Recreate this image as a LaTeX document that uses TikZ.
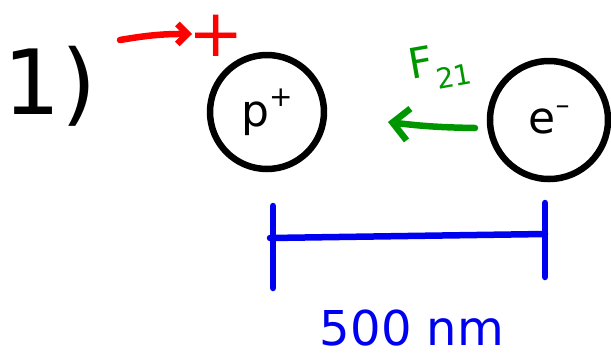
\documentclass[tikz,border=0pt]{standalone}
\usepackage{fontspec}
\setmainfont{DejaVu Sans}
\usetikzlibrary{arrows.meta}
\definecolor{pred}{RGB}{255,0,0}
\definecolor{pgreen}{RGB}{0,150,0}
\definecolor{pblue}{RGB}{0,0,240}
\newcommand{\supx}[2]{#1\raisebox{0.45em}{\fontsize{28}{28}\selectfont #2}}
\begin{document}
\begin{tikzpicture}[x=1pt,y=-1pt,
  pen/.style={line width=6.5pt,line cap=round,line join=round},
  particle/.style={circle,draw=black,pen,minimum size=114pt,inner sep=0pt,font=\fontsize{44}{44}\selectfont},
  hand/.style={inner sep=0pt,font=\fontsize{#1}{#1}\selectfont}]
\useasboundingbox (0,0) rectangle (611,360);
% label 1)
\node[hand=90] (num) at (50,86) {1)};
% red arrow and plus
\coordinate (ra) at (120,40);
\coordinate (rb) at (192,34);
\draw[pen,pred,-{Straight Barb[length=10pt,width=20pt]}] (ra) to[bend left=5] (rb);
\node[hand=66,text=pred] (plus) at (216,36) {+};
% particles
\node[particle] (p) at (267,112) {\supx{p}{+}};
\node[particle,minimum size=118pt] (e) at (549,120) {\supx{e}{–}};
% force arrow
\coordinate (fa) at (475,128);
\coordinate (fb) at (388,122);
\draw[pen,pgreen,-{Straight Barb[length=16pt,width=32pt]}] (fa) to[bend left=3] (fb);
\node[hand=42,text=pgreen,rotate=10] (F) at (440,66) {F\raisebox{-0.35em}{\fontsize{28}{28}\selectfont 21}};
% distance bar
\coordinate (b1) at (270,238);
\coordinate (b2) at (545,234);
\coordinate (t1a) at (273,206);
\coordinate (t1b) at (273,288);
\coordinate (t2a) at (545,203);
\coordinate (t2b) at (545,277);
\draw[pen,pblue] (b1) -- (b2);
\draw[pen,pblue] (t1a) -- (t1b);
\draw[pen,pblue] (t2a) -- (t2b);
\node[hand=48,text=pblue] (d) at (412,328) {500 nm};
\end{tikzpicture}
\end{document}
